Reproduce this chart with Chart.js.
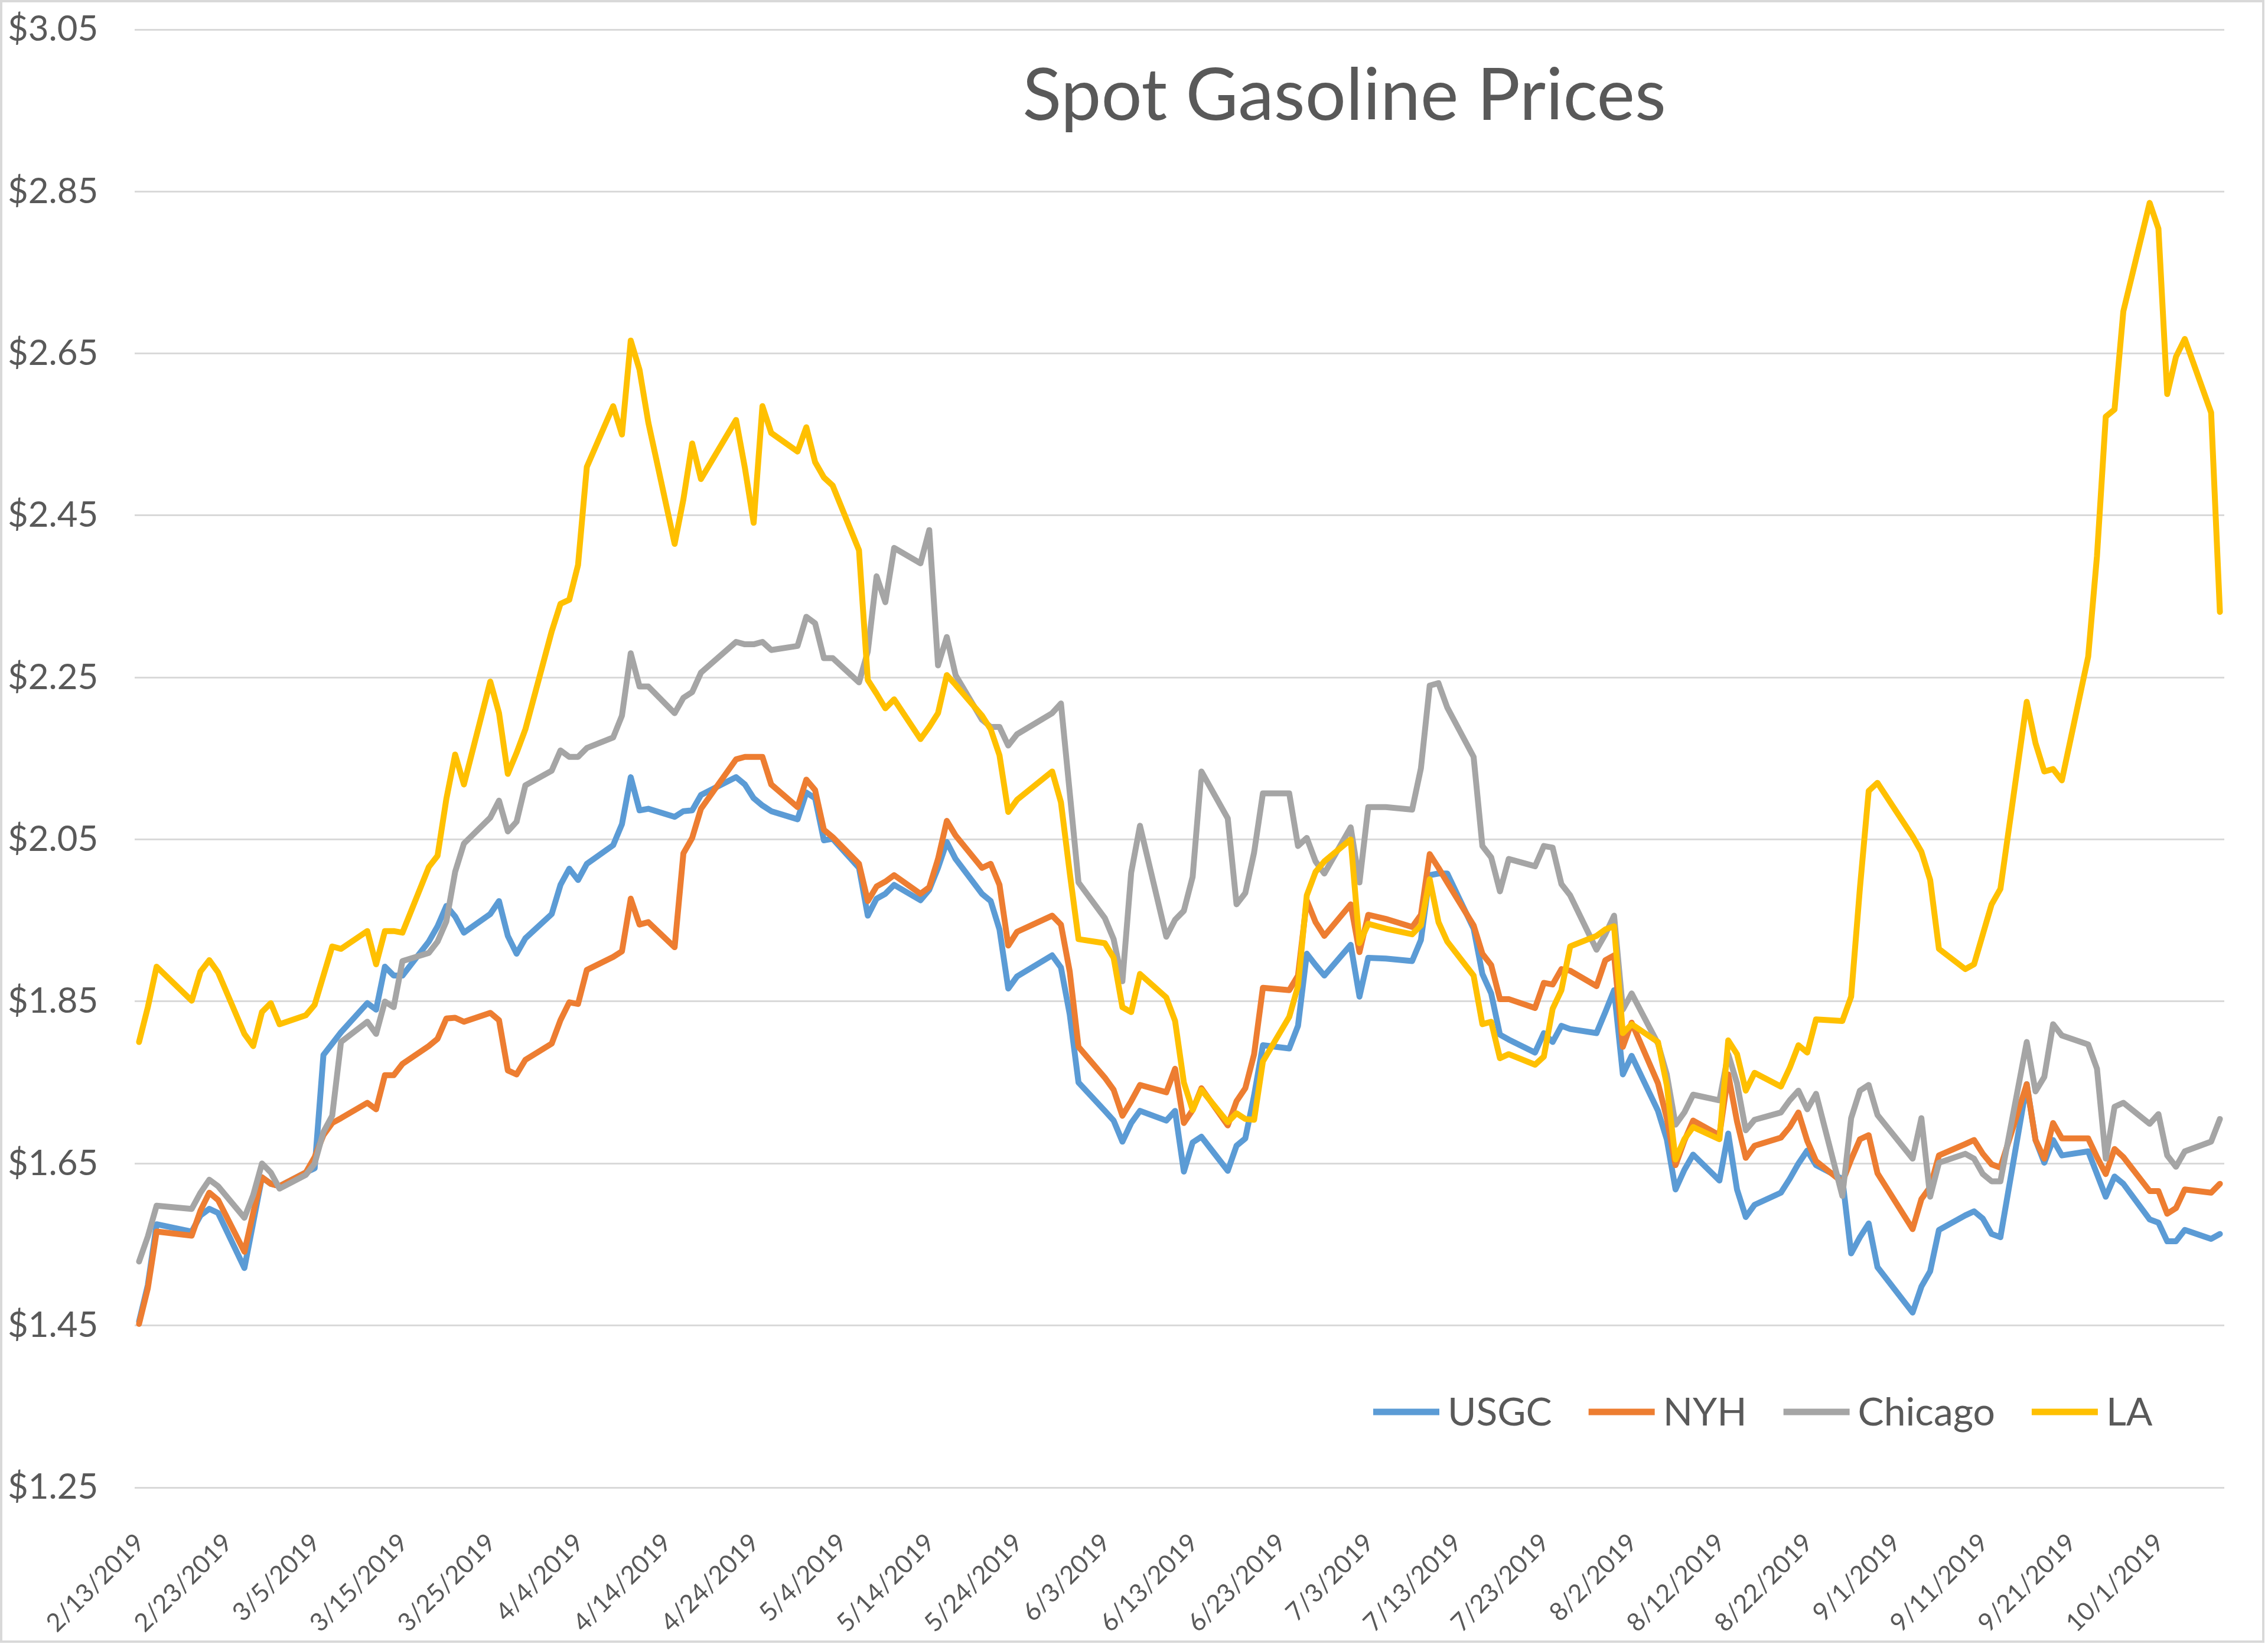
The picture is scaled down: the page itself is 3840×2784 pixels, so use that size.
<!DOCTYPE html>
<html>
<head>
<meta charset="utf-8">
<script src="https://cdn.jsdelivr.net/npm/chart.js@4.4.1/dist/chart.umd.min.js"></script>
<style>
html,body{margin:0;padding:0;background:#ffffff;}
#wrap{width:3840px;height:2784px;position:relative;}
</style>
</head>
<body>
<div id="wrap"><canvas id="c"></canvas></div>
<script>
const chartTitle = 'Spot Gasoline Prices';
const seriesNames = ['USGC', 'NYH', 'Chicago', 'LA'];
const seriesColors = ['#5B9BD5', '#ED7D31', '#A5A5A5', '#FFC000'];

const dates = [
"2/13","2/14","2/15","2/19","2/20","2/21","2/22","2/25","2/26","2/27","2/28",
"3/1","3/4","3/5","3/6","3/7","3/8","3/11","3/12","3/13","3/14","3/15","3/18","3/19","3/20","3/21","3/22","3/25","3/26","3/27","3/28","3/29",
"4/1","4/2","4/3","4/4","4/5","4/8","4/9","4/10","4/11","4/12","4/15","4/16","4/17","4/18","4/22","4/23","4/24","4/25","4/26","4/29","4/30",
"5/1","5/2","5/3","5/6","5/7","5/8","5/9","5/10","5/13","5/14","5/15","5/16","5/17","5/20","5/21","5/22","5/23","5/24","5/28","5/29","5/30","5/31",
"6/3","6/4","6/5","6/6","6/7","6/10","6/11","6/12","6/13","6/14","6/17","6/18","6/19","6/20","6/21","6/24","6/25","6/26","6/27","6/28",
"7/1","7/2","7/3","7/5","7/8","7/9","7/10","7/11","7/12","7/15","7/16","7/17","7/18","7/19","7/22","7/23","7/24","7/25","7/26","7/29","7/30","7/31",
"8/1","8/2","8/5","8/6","8/7","8/8","8/9","8/12","8/13","8/14","8/15","8/16","8/19","8/20","8/21","8/22","8/23","8/26","8/27","8/28","8/29","8/30",
"9/3","9/4","9/5","9/6","9/9","9/10","9/11","9/12","9/13","9/16","9/17","9/18","9/19","9/20","9/23","9/24","9/25","9/26","9/27","9/30",
"10/1","10/2","10/3","10/4","10/7","10/8"
];

const usgc = [
1.455,1.500,1.575,1.566,1.586,1.594,1.589,1.521,1.577,1.633,1.625,
1.622,1.639,1.644,1.784,1.798,1.812,1.848,1.840,1.893,1.882,1.882,1.924,1.943,1.968,1.955,1.935,1.958,1.974,1.931,1.909,1.928,
1.958,1.994,2.014,2.000,2.020,2.043,2.069,2.127,2.086,2.088,2.078,2.085,2.086,2.105,2.127,2.118,2.101,2.092,2.085,2.075,2.108,
2.101,2.049,2.051,2.015,1.956,1.977,1.983,1.994,1.975,1.988,2.015,2.047,2.026,1.983,1.974,1.939,1.866,1.881,1.907,1.892,1.834,1.750,
1.715,1.703,1.677,1.700,1.715,1.703,1.715,1.640,1.676,1.683,1.641,1.672,1.681,1.734,1.796,1.792,1.820,1.909,1.895,1.882,
1.920,1.856,1.904,1.903,1.900,1.926,2.006,2.008,2.008,1.940,1.884,1.860,1.809,1.803,1.787,1.811,1.800,1.820,1.816,1.811,1.837,1.864,
1.760,1.783,1.715,1.680,1.618,1.642,1.661,1.629,1.687,1.618,1.584,1.599,1.614,1.631,1.650,1.666,1.648,1.631,1.539,1.559,1.576,1.522,
1.466,1.498,1.517,1.568,1.586,1.591,1.582,1.563,1.559,1.748,1.679,1.651,1.679,1.660,1.665,1.637,1.609,1.634,1.625,1.581,
1.577,1.554,1.554,1.568,1.557,1.563
];

const nyh = [
1.452,1.496,1.566,1.561,1.592,1.614,1.605,1.541,1.589,1.633,1.625,
1.622,1.639,1.658,1.685,1.700,1.706,1.725,1.717,1.759,1.759,1.773,1.795,1.804,1.829,1.830,1.825,1.836,1.827,1.765,1.760,1.778,
1.798,1.827,1.849,1.847,1.889,1.905,1.912,1.977,1.945,1.948,1.917,2.033,2.052,2.088,2.149,2.152,2.152,2.152,2.118,2.090,2.124,
2.111,2.062,2.053,2.020,1.974,1.992,1.998,2.006,1.983,1.991,2.026,2.073,2.055,2.015,2.020,1.994,1.919,1.936,1.956,1.945,1.887,1.794,
1.756,1.741,1.709,1.727,1.747,1.738,1.767,1.700,1.716,1.743,1.697,1.727,1.743,1.785,1.867,1.864,1.882,1.975,1.948,1.931,
1.970,1.911,1.957,1.952,1.942,1.957,2.032,2.015,1.997,1.944,1.909,1.895,1.853,1.853,1.842,1.873,1.871,1.890,1.888,1.869,1.901,1.907,
1.794,1.824,1.749,1.706,1.648,1.678,1.703,1.685,1.760,1.702,1.657,1.672,1.682,1.695,1.713,1.678,1.653,1.627,1.655,1.680,1.685,1.638,
1.569,1.606,1.621,1.660,1.674,1.679,1.662,1.649,1.645,1.748,1.679,1.656,1.700,1.681,1.681,1.658,1.637,1.668,1.658,1.616,
1.616,1.588,1.595,1.618,1.614,1.625
];

const chicago = [
1.529,1.560,1.598,1.594,1.614,1.630,1.622,1.583,1.611,1.650,1.639,
1.619,1.636,1.650,1.689,1.709,1.800,1.825,1.810,1.850,1.843,1.900,1.910,1.924,1.949,2.010,2.045,2.077,2.098,2.060,2.072,2.117,
2.135,2.160,2.152,2.152,2.163,2.176,2.203,2.280,2.239,2.239,2.206,2.225,2.232,2.256,2.294,2.291,2.291,2.294,2.284,2.289,2.325,
2.317,2.274,2.274,2.244,2.282,2.375,2.343,2.410,2.391,2.432,2.265,2.300,2.253,2.198,2.189,2.189,2.166,2.180,2.206,2.218,2.108,1.997,
1.953,1.927,1.875,2.009,2.067,1.930,1.951,1.962,2.004,2.134,2.076,1.970,1.984,2.034,2.107,2.107,2.042,2.052,2.023,2.008,
2.065,1.997,2.090,2.090,2.087,2.138,2.240,2.243,2.213,2.152,2.042,2.028,1.986,2.026,2.017,2.042,2.040,1.995,1.981,1.914,1.933,1.956,
1.840,1.860,1.798,1.760,1.698,1.713,1.735,1.728,1.785,1.749,1.691,1.704,1.713,1.728,1.740,1.717,1.736,1.610,1.706,1.740,1.747,1.710,
1.656,1.706,1.609,1.651,1.662,1.656,1.637,1.628,1.628,1.800,1.739,1.757,1.822,1.808,1.797,1.767,1.656,1.720,1.725,1.699,
1.711,1.660,1.646,1.665,1.677,1.705
];

const la = [
1.800,1.843,1.893,1.851,1.887,1.901,1.886,1.810,1.795,1.837,1.848,
1.822,1.833,1.846,1.882,1.918,1.915,1.937,1.896,1.937,1.937,1.935,2.016,2.030,2.100,2.155,2.118,2.245,2.206,2.131,2.157,2.186,
2.307,2.341,2.346,2.389,2.510,2.585,2.550,2.666,2.630,2.565,2.415,2.470,2.539,2.495,2.568,2.509,2.441,2.585,2.552,2.529,2.559,
2.516,2.497,2.487,2.407,2.247,2.230,2.212,2.223,2.174,2.189,2.206,2.253,2.241,2.203,2.186,2.154,2.084,2.099,2.134,2.096,2.009,1.927,
1.922,1.904,1.843,1.837,1.884,1.855,1.826,1.750,1.716,1.741,1.701,1.712,1.705,1.704,1.776,1.831,1.869,1.981,2.010,2.023,
2.050,1.922,1.946,1.940,1.933,1.944,2.001,1.948,1.924,1.882,1.822,1.825,1.780,1.785,1.772,1.782,1.841,1.864,1.918,1.931,1.939,1.943,
1.811,1.822,1.800,1.747,1.655,1.680,1.695,1.680,1.802,1.785,1.740,1.762,1.745,1.768,1.796,1.787,1.828,1.826,1.856,1.990,2.110,2.120,
2.054,2.035,2.000,1.915,1.890,1.896,1.933,1.970,1.989,2.220,2.169,2.134,2.137,2.123,2.276,2.400,2.572,2.581,2.702,2.836,
2.804,2.600,2.646,2.668,2.577,2.331
];

const xTickLabels = [
"2/13/2019","2/23/2019","3/5/2019","3/15/2019","3/25/2019","4/4/2019","4/14/2019","4/24/2019",
"5/4/2019","5/14/2019","5/24/2019","6/3/2019","6/13/2019","6/23/2019","7/3/2019","7/13/2019",
"7/23/2019","8/2/2019","8/12/2019","8/22/2019","9/1/2019","9/11/2019","9/21/2019","10/1/2019"
];
const yTickValues = [1.25, 1.45, 1.65, 1.85, 2.05, 2.25, 2.45, 2.65, 2.85, 3.05];

const YEAR = 2019;
function dayNum(s) {
  const p = s.split('/').map(Number);
  return Date.UTC(p[2] || YEAR, p[0] - 1, p[1]) / 86400000;
}
const day0 = dayNum(dates[0]);
const toX = s => dayNum(s) - day0;

const seriesValues = [usgc, nyh, chicago, la];
const datasets = seriesNames.map((name, k) => ({
  label: name,
  data: dates.map((d, i) => ({ x: toX(d), y: seriesValues[k][i] })),
  borderColor: seriesColors[k],
  backgroundColor: seriesColors[k],
  borderWidth: 10,
  pointRadius: 0,
  pointHoverRadius: 0,
  tension: 0,
  fill: false,
  borderJoinStyle: 'round',
  borderCapStyle: 'round',
  order: seriesNames.length - k
}));

const overlay = {
  id: 'overlay',
  beforeDraw(chart) {
    const { ctx, width, height } = chart;
    ctx.save();
    ctx.fillStyle = '#FFFFFF';
    ctx.fillRect(0, 0, width, height);
    ctx.restore();
  },
  afterDraw(chart) {
    const { ctx, width, height, chartArea: a } = chart;
    ctx.save();
    ctx.strokeStyle = '#D9D9D9';
    ctx.lineWidth = 4;
    ctx.strokeRect(2, 2, width - 10, height - 6);

    ctx.fillStyle = '#595959';
    ctx.font = '122px Lato';
    ctx.textAlign = 'center';
    ctx.textBaseline = 'alphabetic';
    ctx.fillText(chartTitle, a.left + 2048, 203);

    ctx.font = '66px Lato';
    ctx.textAlign = 'left';
    let x = a.left + 2097;
    const y = a.bottom - 128;
    chart.data.datasets.forEach(ds => {
      ctx.strokeStyle = ds.borderColor;
      ctx.lineWidth = 11;
      ctx.lineCap = 'butt';
      ctx.beginPath();
      ctx.moveTo(x, y);
      ctx.lineTo(x + 112, y);
      ctx.stroke();
      x += 126;
      ctx.fillStyle = '#595959';
      ctx.fillText(ds.label, x, y + 23);
      x += ctx.measureText(ds.label).width + 62;
    });
    ctx.restore();
  }
};

Chart.defaults.font.family = 'Lato';
Chart.defaults.color = '#595959';

new Chart(document.getElementById('c'), {
  type: 'line',
  data: { datasets },
  plugins: [overlay],
  options: {
    responsive: true,
    maintainAspectRatio: false,
    animation: false,
    devicePixelRatio: 1,
    layout: { padding: { left: 13, right: 74, top: 50, bottom: 0 } },
    plugins: {
      legend: { display: false },
      title: { display: false },
      tooltip: { enabled: false }
    },
    scales: {
      x: {
        type: 'linear',
        min: -0.5,
        max: toX(dates[dates.length - 1]) + 0.5,
        afterBuildTicks: s => { s.ticks = xTickLabels.map(l => ({ value: toX(l) })); },
        afterFit: s => { s.height = 265; },
        grid: { display: false },
        border: { display: false },
        ticks: {
          autoSkip: false,
          minRotation: 45,
          maxRotation: 45,
          padding: 60,
          labelOffset: 2,
          color: '#595959',
          font: { family: 'Lato', size: 43 },
          callback: (v, i) => xTickLabels[i]
        }
      },
      y: {
        min: yTickValues[0],
        max: yTickValues[yTickValues.length - 1],
        afterBuildTicks: s => { s.ticks = yTickValues.map(v => ({ value: v })); },
        afterFit: s => { s.width = 215; },
        grid: { color: '#D9D9D9', lineWidth: 3, drawTicks: false },
        border: { display: false },
        ticks: {
          padding: 0,
          crossAlign: 'far',
          color: '#595959',
          font: { family: 'Lato', size: 60 },
          callback: v => '$' + Number(v).toFixed(2)
        }
      }
    }
  }
});
</script>
</body>
</html>
